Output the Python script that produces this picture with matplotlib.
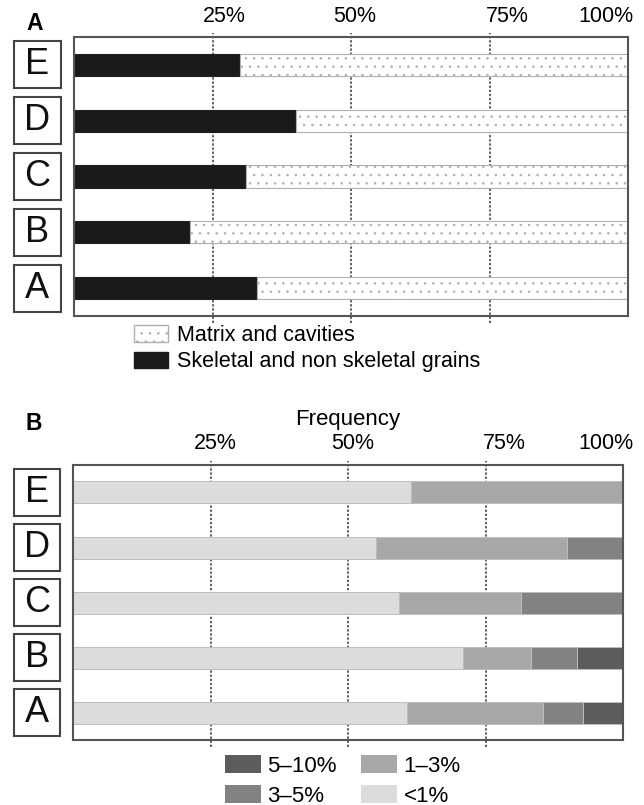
import matplotlib.pyplot as plt
import matplotlib.transforms as mtransforms
from matplotlib.patches import Patch, Rectangle

plt.rcParams['font.family'] = ['Liberation Sans', 'DejaVu Sans']
plt.rcParams['hatch.linewidth'] = 0.6

# data
cores = ['A', 'B', 'C', 'D', 'E']
grains = [33, 21, 31, 40, 30]          # skeletal and non skeletal grains (%)
matrix = [67, 79, 69, 60, 70]          # matrix and cavities (%)

freq_labels = ['<1%', '1\u20133%', '3\u20135%', '5\u201310%']
freq_lt1 = [60.7, 70.9, 59.3, 55.0, 61.4]
freq_1_3 = [24.8, 12.4, 22.1, 34.8, 38.6]
freq_3_5 = [7.3, 8.3, 18.6, 10.2, 0.0]
freq_5_10 = [7.2, 8.4, 0.0, 0.0, 0.0]
freq_colors = ['#dcdcdc', '#a8a8a8', '#828282', '#5c5c5c']

ticks = [25, 50, 75, 100]
tick_labels = ['25%', '50%', '75%', '100%']

fig = plt.figure(figsize=(6.44, 8.05), dpi=100)
axA = fig.add_axes([74/644, 1-316/805, 554/644, 279/805])
axB = fig.add_axes([73/644, 1-740/805, 550/644, 275/805])


def style_axis(ax, label_offsets, pad):
    ax.set_xlim(0, 100)
    ax.set_ylim(-0.5, 4.5)
    ax.set_yticks([])
    ax.xaxis.tick_top()
    ax.set_xticks(ticks)
    ax.set_xticklabels(tick_labels, fontsize=15.5)
    ax.tick_params(axis='x', length=0, pad=pad)
    for lbl, dx in zip(ax.get_xticklabels(), label_offsets):
        lbl.set_transform(lbl.get_transform() +
                          mtransforms.ScaledTranslation(dx/100, 0, fig.dpi_scale_trans))
    for s in ax.spines.values():
        s.set_color('#555555')
        s.set_linewidth(1.5)
    for t in ticks[:-1]:
        ax.axvline(t, ymin=-0.025, ymax=1.015, color='#333333', lw=1.1,
                   ls=(0, (1.5, 1.2)), zorder=0, clip_on=False)
    # letter boxes on the left
    trans = mtransforms.blended_transform_factory(ax.transAxes, ax.transData)
    for i, c in enumerate(cores):
        ax.add_patch(Rectangle((-0.108, i-0.42), 0.084, 0.84, transform=trans,
                               fill=False, edgecolor='#444444', lw=1.5, clip_on=False))
        ax.text(-0.066, i, c, transform=trans, ha='center', va='center',
                fontsize=26, color='#111111')


ypos = list(range(len(cores)))

# panel A
axA.barh(ypos, grains, height=0.4, color='#1a1a1a', edgecolor='#222222', lw=0.8, zorder=2)
axA.barh(ypos, matrix, left=grains, height=0.4, color='white', edgecolor='#b0b0b0',
         hatch='..', lw=0.8, zorder=2)
style_axis(axA, [12, 4, 18, -22], 7)
fig.text(35/644, 1-23/805, 'A', fontsize=16.5, fontweight='bold', ha='center', va='center')

legA = [Patch(facecolor='white', edgecolor='#b0b0b0', hatch='..', label='Matrix and cavities'),
        Patch(facecolor='#1a1a1a', edgecolor='#1a1a1a', label='Skeletal and non skeletal grains')]
fig.legend(handles=legA, loc='upper left', bbox_to_anchor=(134/644, 1-325/805),
           frameon=False, fontsize=15.5, handlelength=1.6, handleheight=0.8,
           handletextpad=0.4, labelspacing=0.25, borderpad=0, borderaxespad=0)

# panel B
series = [freq_lt1, freq_1_3, freq_3_5, freq_5_10]
left = [0.0] * len(cores)
for vals, col in zip(series, freq_colors):
    axB.barh(ypos, vals, left=left, height=0.4, color=col, edgecolor='#bdbdbd',
             lw=0.7, zorder=2)
    left = [l + v for l, v in zip(left, vals)]
style_axis(axB, [5, 5, 19, -17], 8)
axB.xaxis.set_label_position('top')
axB.set_xlabel('Frequency', fontsize=16, labelpad=6)
fig.text(34/644, 1-423/805, 'B', fontsize=16.5, fontweight='bold', ha='center', va='center')

legB = [Patch(facecolor=freq_colors[3], label=freq_labels[3]),
        Patch(facecolor=freq_colors[2], label=freq_labels[2]),
        Patch(facecolor=freq_colors[1], label=freq_labels[1]),
        Patch(facecolor=freq_colors[0], label=freq_labels[0])]
fig.legend(handles=legB, loc='upper left', bbox_to_anchor=(225/644, 1-755/805), ncol=2,
           frameon=False, fontsize=16, handlelength=1.6, handleheight=0.9,
           handletextpad=0.3, labelspacing=0.35, columnspacing=1.1,
           borderpad=0, borderaxespad=0)

fig.savefig('out.png', dpi=100)
